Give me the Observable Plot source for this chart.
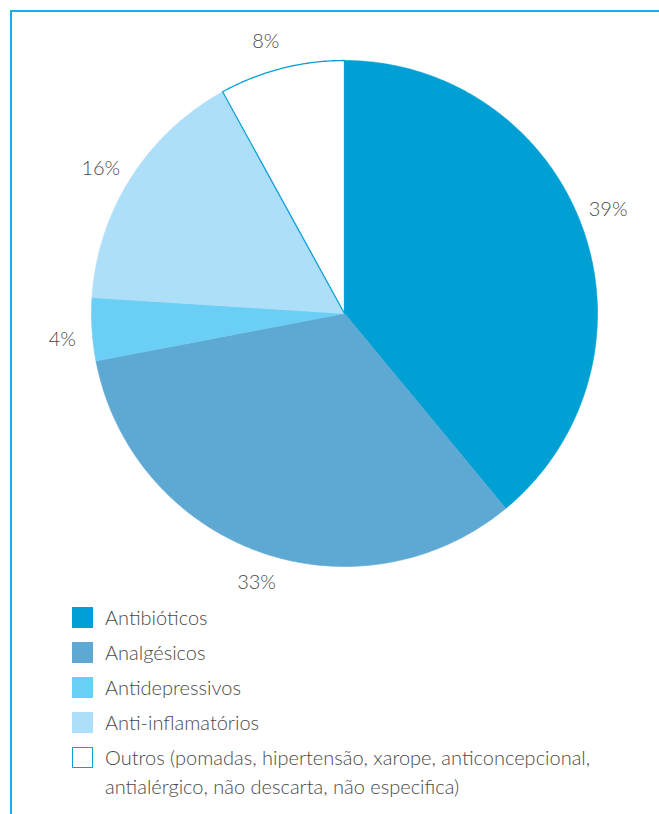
<!DOCTYPE html>
<html>
<head>
<meta charset="utf-8">
<script src="https://cdn.jsdelivr.net/npm/d3@7"></script>
<script src="https://cdn.jsdelivr.net/npm/@observablehq/plot@0.6"></script>
<style>
  html, body { margin: 0; padding: 0; background: #fff; }
  body { width: 659px; height: 814px; position: relative; overflow: hidden; font-family: Lato, "Open Sans", sans-serif; }
  #borderTop { position: absolute; left: 10px; top: 10px; width: 649px; height: 2px; background: #1aaee2; }
  #borderLeft { position: absolute; left: 10px; top: 10px; width: 2px; height: 804px; background: #1aaee2; }
  #chart { position: absolute; left: 0; top: 0; }
  #legend { position: absolute; left: 72px; top: 607px; }
  .item { display: flex; align-items: flex-start; margin-bottom: 14px; }
  .sw { width: 21px; height: 21px; flex: none; box-sizing: border-box; }
  .lab { margin-left: 12px; font-size: 20px; font-weight: 300; color: #4a4a4a; line-height: 21px; max-width: 530px; }
  .item.last .lab { line-height: 29px; margin-top: -4px; }
</style>
</head>
<body>
<div id="chart"></div>
<div id="borderTop"></div>
<div id="borderLeft"></div>
<div id="legend"></div>
<script>
const categories = ["Antibióticos", "Analgésicos", "Antidepressivos", "Anti-inflamatórios", "Outros (pomadas, hipertensão, xarope, anticoncepcional, antialérgico, não descarta, não especifica)"];
const values = [39, 33, 4, 16, 8];
const percentLabels = ["39%", "33%", "4%", "16%", "8%"];
const colors = ["#009fd4", "#5ea9d3", "#6bcff5", "#addff8", "#ffffff"];

const total = d3.sum(values);
let cum = 0;
const slices = values.map((v, i) => {
  const a0 = cum / total * 2 * Math.PI;
  cum += v;
  const a1 = cum / total * 2 * Math.PI;
  return {cat: categories[i], a0, a1, label: percentLabels[i]};
});

const pts = [];
for (const s of slices) {
  pts.push({cat: s.cat, x: 0, y: 0});
  const n = Math.max(2, Math.ceil((s.a1 - s.a0) / (Math.PI / 360)));
  for (let k = 0; k <= n; k++) {
    const a = s.a0 + (s.a1 - s.a0) * k / n;
    pts.push({cat: s.cat, x: Math.sin(a), y: Math.cos(a)});
  }
  pts.push({cat: s.cat, x: 0, y: 0});
}
const outros = pts.filter(d => d.cat === categories[4]);

const labelR = 1.12;
const labelPts = slices.map(s => {
  const a = (s.a0 + s.a1) / 2 - 0.03;
  return {label: s.label, x: labelR * Math.sin(a), y: labelR * Math.cos(a)};
});

const W = 659, H = 600, R = 253, cx = 344, cy = 313;
const chart = Plot.plot({
  width: W,
  height: H,
  margin: 0,
  x: {domain: [-cx / R, (W - cx) / R], range: [0, W], axis: null},
  y: {domain: [-(H - cy) / R, cy / R], range: [H, 0], axis: null},
  color: {domain: categories, range: colors},
  style: {background: "transparent", fontFamily: "Lato, 'Open Sans', sans-serif"},
  marks: [
    Plot.line(pts, {x: "x", y: "y", z: "cat", fill: "cat", stroke: "cat", strokeWidth: 0.6, curve: "linear"}),
    Plot.line(outros, {x: "x", y: "y", stroke: "#0a9fd6", strokeWidth: 1.3, curve: "linear"}),
    Plot.text(labelPts, {x: "x", y: "y", text: "label", fontSize: 20, fontWeight: 300, fill: "#4a4a4a"})
  ]
});
document.getElementById("chart").appendChild(chart);

const legend = document.getElementById("legend");
categories.forEach((c, i) => {
  const item = document.createElement("div");
  item.className = "item" + (i === categories.length - 1 ? " last" : "");
  const sw = document.createElement("div");
  sw.className = "sw";
  sw.style.background = colors[i];
  if (i === categories.length - 1) sw.style.border = "1.5px solid #0a9fd6";
  const lab = document.createElement("div");
  lab.className = "lab";
  lab.textContent = c;
  item.appendChild(sw);
  item.appendChild(lab);
  legend.appendChild(item);
});
</script>
</body>
</html>
